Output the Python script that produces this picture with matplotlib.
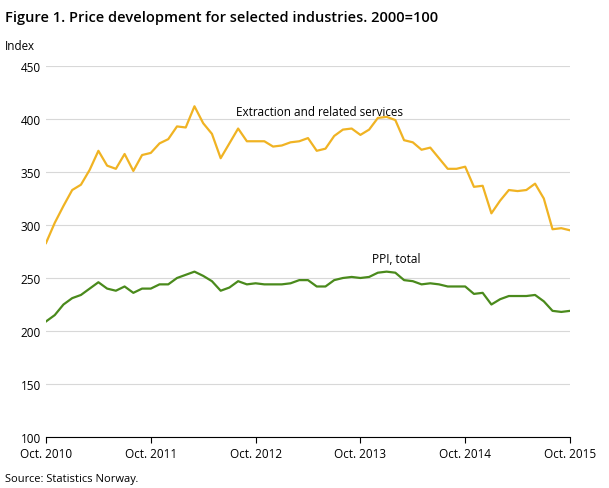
import matplotlib
matplotlib.use("Agg")
import matplotlib.pyplot as plt
import numpy as np

extraction = [283,302,318,
 333,338,352,370,356,353,367,351,366,368,377,381,
 393,392,412,396,386,363,377,391,379,379,379,374,
 375,378,379,382,370,372,384,390,391,385,390,401,
 402,399,380,378,371,373,363,353,353,355,336,337,
 311,323,333,332,333,339,325,296,297,295]
ppi = [209,215,225,231,234,240,246,240,238,242,
 236,240,240,244,244,250,253,256,252,247,
 238,241,247,244,245,244,244,244,245,248,
 248,242,242,248,250,251,250,251,255,256,
 255,248,247,244,245,244,242,242,242,235,
 236,225,230,233,233,233,234,228,219,218,219]
tick_labels = ["Oct. 2010","Oct. 2011","Oct. 2012","Oct. 2013","Oct. 2014","Oct. 2015"]

plt.rcParams["font.family"] = "Open Sans"
fig = plt.figure(figsize=(6.09,4.89), dpi=100)
ax = fig.add_axes([46/609, 1-438/489, 524/609, 371/489])
x = np.arange(len(extraction))
ax.plot(x, extraction, color="#f0b323", lw=1.6)
ax.plot(x, ppi, color="#4a8a1c", lw=1.6)
ax.set_xlim(0, 60); ax.set_ylim(100, 450)
ax.set_xticks(range(0, 61, 12)); ax.set_xticklabels(tick_labels, fontsize=8.5)
ax.set_yticks(range(100, 451, 50))
ax.tick_params(axis="y", length=0, labelsize=8.5)
ax.tick_params(axis="x", length=4, color="#000")
ax.grid(axis="y", color="#d8d8d8", lw=0.8)
for s in ["top","right","left"]:
    ax.spines[s].set_visible(False)
ax.spines["bottom"].set_color("#000")
ax.text(21.8, 404, "Extraction and related services", fontsize=8.5)
ax.text(37.3, 265, "PPI, total", fontsize=8.5)
fig.text(5/609, 1-18/489, "Figure 1. Price development for selected industries. 2000=100", fontsize=10.5, fontweight="semibold", va="center")
fig.text(5/609, 1-47/489, "Index", fontsize=8.5, va="center")
fig.text(5/609, 1-480/489, "Source: Statistics Norway.", fontsize=8, va="center")
fig.savefig("out.png", dpi=100)
